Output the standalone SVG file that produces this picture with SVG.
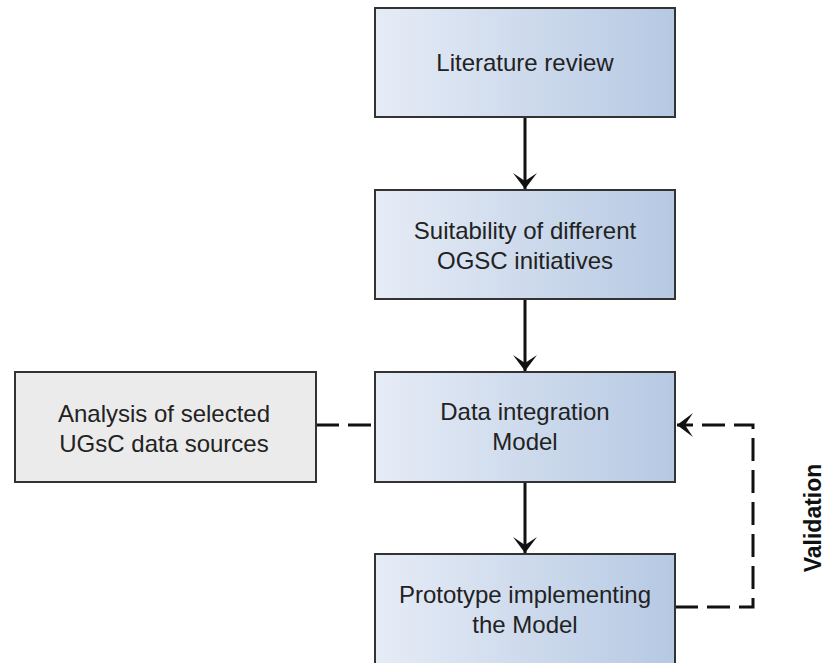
<svg xmlns="http://www.w3.org/2000/svg" width="825" height="663" viewBox="0 0 825 663">
  <defs>
    <linearGradient id="blueFill" x1="0" y1="0" x2="1" y2="0">
      <stop offset="0" stop-color="#e6ecf6"/>
      <stop offset="1" stop-color="#b6c9e3"/>
    </linearGradient>
    <!-- arrowhead drawn pointing along +x; orient="auto" turns it with the line -->
    <marker id="arrowHead" viewBox="-18 -13 20 26" markerWidth="20" markerHeight="26" refX="0" refY="0" orient="auto" markerUnits="userSpaceOnUse">
      <path d="M0,0 L-16,-12 L-8,0 L-16,12 Z" fill="#111"/>
    </marker>
  </defs>
  <style>
    .step { fill: url(#blueFill); stroke: #333; stroke-width: 2; }
    .side { fill: #ebebeb; stroke: #333; stroke-width: 2; }
    .label { font-family: "Liberation Sans", Arial, sans-serif; font-size: 24px; fill: #222; text-anchor: middle; }
    .flow { fill: none; stroke: #111; stroke-width: 3; }
    .dash { fill: none; stroke: #111; stroke-width: 3; stroke-dasharray: 23 9; }
    .caption { font-family: "Liberation Sans", Arial, sans-serif; font-size: 23px; font-weight: bold; fill: #111; text-anchor: middle; }
  </style>

  <g id="connectors">
    <path class="flow" d="M525,117 V189" marker-end="url(#arrowHead)"/>
    <path class="flow" d="M525,299 V371" marker-end="url(#arrowHead)"/>
    <path class="flow" d="M525,482 V553" marker-end="url(#arrowHead)"/>
    <path class="dash" d="M316,425 H375"/>
    <path class="dash" d="M675,607 H753 V425 H677" marker-end="url(#arrowHead)"/>
  </g>

  <g id="literature-review">
    <rect class="step" x="375" y="8" width="300" height="109"/>
    <text class="label" x="525" y="71">Literature review</text>
  </g>

  <g id="suitability">
    <rect class="step" x="375" y="190" width="300" height="109"/>
    <text class="label" x="525" y="239">Suitability of different</text>
    <text class="label" x="525" y="269">OGSC initiatives</text>
  </g>

  <g id="analysis">
    <rect class="side" x="15" y="372" width="301" height="110"/>
    <text class="label" x="164" y="422">Analysis of selected</text>
    <text class="label" x="164" y="452">UGsC data sources</text>
  </g>

  <g id="data-integration">
    <rect class="step" x="375" y="372" width="300" height="110"/>
    <text class="label" x="525" y="420">Data integration</text>
    <text class="label" x="525" y="450">Model</text>
  </g>

  <g id="prototype">
    <rect class="step" x="375" y="554" width="300" height="112"/>
    <text class="label" x="525" y="603">Prototype implementing</text>
    <text class="label" x="525" y="633">the Model</text>
  </g>

  <g id="validation">
    <text class="caption" transform="translate(821,518) rotate(-90)">Validation</text>
  </g>
</svg>
